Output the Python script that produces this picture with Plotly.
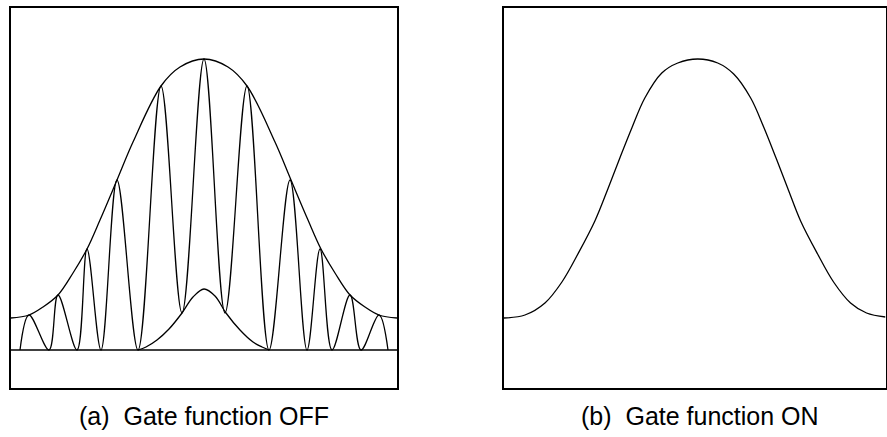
import plotly.graph_objects as go

# (a) gate OFF: readings from the picture, x relative to pulse centre, y above baseline
ENV_X = [-193.3, -175, -161, -146, -131, -117, -104, -87, -71, -43, -24, 0,
         24, 43, 71, 87, 104, 117, 131, 146, 161, 175, 193]
ENV_Y = [32, 35, 43, 55, 77, 101, 130, 170, 208, 264, 283, 291,
         283, 264, 208, 170, 130, 101, 77, 55, 43, 35, 32]

BUMP_X = [-66, -58, -47, -35, -22, -11, 0, 11, 22, 36, 49, 58, 65]
BUMP_Y = [0, 3, 10, 21, 37, 53, 61, 54, 37, 20, 8, 3, 0]

BASE_X = [-193.3, 193]
BASE_Y = [0, 0]

SIG_X = [-184, -175, -155, -146, -127, -117, -103, -87, -66, -43, -22, 0,
         21, 43, 65, 86, 103, 116, 128, 146, 157, 175, 184]
SIG_Y = [0, 35, 0, 55, 0, 101, 0, 170, 0, 264, 37, 291,
         37, 264, 0, 170, 0, 101, 0, 55, 0, 35, 0]

# (b) gate ON
ON_X = [-194, -173, -153, -136, -120, -103, -90, -78, -66, -53, -36, -20, 0,
        20, 36, 53, 66, 78, 90, 103, 120, 136, 153, 169, 188]
ON_Y = [32, 35, 47, 68, 96, 129, 161, 192, 222, 252, 277, 287, 291,
        287, 276, 252, 223, 193, 162, 129, 96, 68, 47, 37, 33]

LABELS = ["(a)  Gate function OFF", "(b)  Gate function ON"]

LINE = dict(color="black", width=1.3, shape="spline", smoothing=1)


def box_axis(domain, rng, anchor):
    return dict(
        domain=domain, range=rng, anchor=anchor, showline=True, mirror=True,
        linecolor="black", linewidth=1.5, showgrid=False, zeroline=False,
        showticklabels=False, ticks="", fixedrange=True,
    )


fig = go.Figure()
for xs, ys in [(BASE_X, BASE_Y), (ENV_X, ENV_Y), (BUMP_X, BUMP_Y), (SIG_X, SIG_Y)]:
    fig.add_trace(go.Scatter(x=xs, y=ys, mode="lines", line=LINE,
                             xaxis="x", yaxis="y", hoverinfo="skip"))
fig.add_trace(go.Scatter(x=ON_X, y=ON_Y, mode="lines", line=LINE,
                         xaxis="x2", yaxis="y2", hoverinfo="skip"))

fig.update_layout(
    width=887, height=437,
    paper_bgcolor="white", plot_bgcolor="white",
    margin=dict(l=0, r=0, t=0, b=0),
    showlegend=False,
    xaxis=box_axis([10.7 / 887, 397 / 887], [-193.3, 193], "y"),
    yaxis=box_axis([49 / 437, 429 / 437], [-38, 342], "x"),
    xaxis2=box_axis([504 / 887, 885.5 / 887], [-194, 188], "y2"),
    yaxis2=box_axis([49 / 437, 429 / 437], [-38, 342], "x2"),
    annotations=[
        dict(text=LABELS[0], x=203.5 / 887, y=21 / 437, xref="paper", yref="paper",
             xanchor="center", yanchor="middle", showarrow=False),
        dict(text=LABELS[1], x=700 / 887, y=21 / 437, xref="paper", yref="paper",
             xanchor="center", yanchor="middle", showarrow=False),
    ],
    font=dict(family="Liberation Sans, Arial, sans-serif", size=25, color="black"),
)

fig.write_html("out.html", config={"displayModeBar": False},
               post_script="document.body.style.margin = '0px';")
